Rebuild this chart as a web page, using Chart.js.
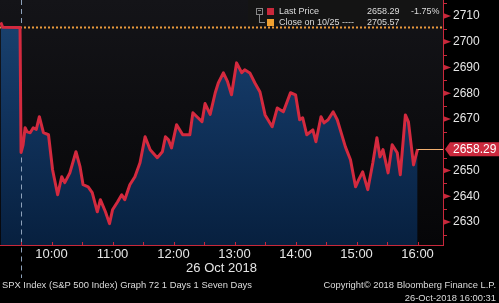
<!DOCTYPE html>
<html>
<head>
<meta charset="utf-8">
<script src="https://cdn.jsdelivr.net/npm/chart.js@4/dist/chart.umd.min.js"></script>
<style>
  html, body { margin: 0; padding: 0; background: #000; }
  #wrap { position: relative; width: 499px; height: 303px; overflow: hidden; background: #000; }
  canvas { position: absolute; left: 0; top: 0; }
  .t { position: absolute; white-space: nowrap; font-family: "Liberation Sans", Arial, sans-serif; color: #dcdcdc; }
  #legend { position: absolute; left: 248px; top: 0; width: 194px; height: 25px; background: #141414; }
  .sq { position: absolute; width: 7px; height: 7px; }
</style>
</head>
<body>
<div id="wrap">
  <canvas id="c" width="499" height="303"></canvas>
  <div id="legend">
    <div style="position:absolute;left:8px;top:8px;width:5px;height:5px;border:1px solid #888;"></div>
    <div style="position:absolute;left:10px;top:10px;width:3px;height:1px;background:#888;"></div>
    <div style="position:absolute;left:11px;top:15px;width:1px;height:8px;background:#888;"></div>
    <div style="position:absolute;left:11px;top:22px;width:6px;height:1px;background:#888;"></div>
    <div class="sq" style="left:19px;top:8px;background:#c9283b;"></div>
    <div class="sq" style="left:19px;top:19px;background:#f0a030;"></div>
    <div class="t" id="lg1" style="left:31px;top:6px;font-size:9px;"></div>
    <div class="t" id="lg1v" style="left:119px;top:6px;font-size:9px;"></div>
    <div class="t" id="lg1p" style="left:163px;top:6px;font-size:9px;"></div>
    <div class="t" id="lg2" style="left:31px;top:17px;font-size:9px;"></div>
    <div class="t" id="lg2v" style="left:119px;top:17px;font-size:9px;"></div>
  </div>
  <div class="t" id="foot1" style="left:2px;top:279px;font-size:9.4px;"></div>
  <div class="t" id="foot2" style="right:3px;top:279px;font-size:9.4px;text-align:right;"></div>
  <div class="t" id="foot3" style="right:3px;top:292px;font-size:9.4px;text-align:right;"></div>
</div>
<script>
// ---- data ----
const times = ["09:10","09:12","09:29","09:30","09:32","09:34","09:36","09:39","09:42","09:45","09:48","09:52","09:57",
  "10:01","10:06","10:10","10:13","10:18","10:24","10:28","10:31","10:36","10:40","10:45","10:48","10:53","10:57",
  "11:00","11:05","11:09","11:12","11:17","11:22","11:27","11:32","11:37","11:44","11:49","11:52","11:55","11:58",
  "12:03","12:09","12:16","12:19","12:24","12:28","12:31","12:36","12:41","12:44","12:49","12:53","12:57",
  "13:02","13:07","13:10","13:15","13:20","13:25","13:30","13:37","13:42","13:48","13:55",
  "14:00","14:04","14:07","14:11","14:17","14:20","14:25","14:28","14:32","14:37","14:41","14:44","14:49","14:54","14:59",
  "15:02","15:06","15:11","15:16","15:20","15:23","15:26","15:31","15:35","15:40","15:43","15:48","15:51","15:56","16:00"];
const prices = [2707.5,2705.6,2705.57,2657.0,2660.0,2666.6,2665.0,2664.7,2666.6,2666.0,2670.9,2664.7,2663.9,
  2650.3,2640.6,2647.6,2645.3,2649.1,2657.3,2651.5,2644.5,2643.7,2641.4,2634.0,2638.7,2634.0,2629.4,
  2634.8,2637.9,2640.6,2638.7,2644.5,2647.6,2653.0,2663.1,2658.1,2655.0,2657.3,2663.1,2661.9,2658.8,
  2667.8,2663.9,2663.9,2672.4,2670.5,2669.0,2676.0,2671.8,2680.2,2684.0,2687.9,2684.6,2679.4,
  2691.8,2688.0,2689.1,2687.9,2684.0,2680.5,2671.6,2667.0,2674.3,2672.8,2680.2,
  2679.4,2669.7,2670.5,2663.9,2665.8,2661.2,2670.9,2668.5,2669.7,2672.8,2669.7,2665.8,2659.2,2654.2,2643.7,
  2646.4,2649.5,2642.6,2653.0,2662.7,2655.3,2658.1,2649.1,2660.0,2656.9,2648.4,2671.6,2668.9,2652.2,2658.29];
const prevClose = 2705.57;
const lastPrice = 2658.29;
const pctChange = "-1.75%";
const sessionOpen = "09:30";
const xTickTimes = ["10:00","11:00","12:00","13:00","14:00","15:00","16:00"];
const xTickLabels = ["10:00","11:00","12:00","13:00","14:00","15:00","16:00"];
const yTickValues = [2630,2640,2650,2660,2670,2680,2690,2700,2710];
const yTickLabels = ["2630","2640","2650","","2670","2680","2690","2700","2710"];
const dateLabel = "26 Oct 2018";
const legendLabels = ["Last Price","Close on 10/25 ----"];
const footLeft = "SPX Index (S&P 500 Index) Graph 72 1 Days 1 Seven Days";
const footRight1 = "Copyright\u00A9 2018 Bloomberg Finance L.P.";
const footRight2 = "26-Oct-2018 16:00:31";

// ---- text ----
document.getElementById('lg1').textContent = legendLabels[0];
document.getElementById('lg1v').textContent = lastPrice.toFixed(2);
document.getElementById('lg1p').textContent = pctChange;
document.getElementById('lg2').textContent = legendLabels[1];
document.getElementById('lg2v').textContent = prevClose.toFixed(2);
document.getElementById('foot1').textContent = footLeft;
document.getElementById('foot2').textContent = footRight1;
document.getElementById('foot3').textContent = footRight2;

const toMin = s => { const [h,m] = s.split(':').map(Number); return h*60+m; };
const pts = times.map((t,i) => ({x: toMin(t), y: prices[i]}));
const RED = '#c8283b';
const zeroPad = s => { s.paddingTop = 0; s.paddingBottom = 0; s.paddingLeft = 0; s.paddingRight = 0; };

const deco = {
  id: 'deco',
  beforeDraw(chart) {
    const {ctx, chartArea: a} = chart;
    const g = ctx.createLinearGradient(0, a.top, 0, a.bottom);
    g.addColorStop(0, '#141418');
    g.addColorStop(1, '#060608');
    ctx.save(); ctx.fillStyle = g; ctx.fillRect(a.left, a.top, a.right-a.left, a.bottom-a.top); ctx.restore();
  },
  beforeDatasetsDraw(chart) {
    const {ctx, chartArea: a, scales: {y}} = chart;
    const py = Math.round(y.getPixelForValue(prevClose)) + 0.5;
    ctx.save();
    ctx.strokeStyle = '#e99a3c'; ctx.lineWidth = 2; ctx.setLineDash([2,2]);
    ctx.beginPath(); ctx.moveTo(a.left, py); ctx.lineTo(a.right, py); ctx.stroke();
    ctx.restore();
  },
  afterDatasetsDraw(chart) {
    const {ctx, chartArea: a, scales: {x, y}} = chart;
    ctx.save();
    const ox = Math.round(x.getPixelForValue(toMin(sessionOpen))) + 0.5;
    const oi = times.indexOf(sessionOpen);
    ctx.strokeStyle = '#8ea2bb'; ctx.lineWidth = 1; ctx.setLineDash([5,4]);
    ctx.beginPath();
    ctx.moveTo(ox, a.top); ctx.lineTo(ox, y.getPixelForValue(prices[oi-1]) - 3);
    ctx.moveTo(ox, y.getPixelForValue(prices[oi]) + 5); ctx.lineTo(ox, 278);
    ctx.stroke();
    ctx.setLineDash([]);
    const ly = Math.round(y.getPixelForValue(lastPrice)) + 0.5;
    const lx = x.getPixelForValue(toMin(times[times.length-1]));
    ctx.strokeStyle = '#f2b070'; ctx.lineWidth = 1;
    ctx.beginPath(); ctx.moveTo(lx, ly); ctx.lineTo(a.right, ly); ctx.stroke();
    ctx.restore();
  },
  afterDraw(chart) {
    const {ctx, chartArea: a, scales: {x, y}} = chart;
    ctx.save();
    ctx.fillStyle = RED; ctx.strokeStyle = RED; ctx.lineWidth = 1;
    yTickValues.forEach((v, i) => {
      const py = y.getPixelForValue(v);
      if (yTickLabels[i] !== "") {
        ctx.beginPath(); ctx.moveTo(a.right, py-3); ctx.lineTo(a.right+8, py); ctx.lineTo(a.right, py+3); ctx.closePath(); ctx.fill();
      }
      const pm = Math.round(y.getPixelForValue(v+5)) + 0.5;
      if (pm > a.top) { ctx.beginPath(); ctx.moveTo(a.right, pm); ctx.lineTo(a.right+4, pm); ctx.stroke(); }
    });
    const pm0 = Math.round(y.getPixelForValue(yTickValues[0]-5)) + 0.5;
    ctx.beginPath(); ctx.moveTo(a.right, pm0); ctx.lineTo(a.right+4, pm0); ctx.stroke();
    for (let m = toMin("09:30"); m <= toMin("16:00"); m += 30) {
      const px = Math.round(x.getPixelForValue(m)) + 0.5;
      ctx.beginPath(); ctx.moveTo(px, a.bottom); ctx.lineTo(px, a.bottom-3); ctx.stroke();
    }
    const ly = y.getPixelForValue(lastPrice);
    ctx.fillStyle = '#cc2a3e';
    ctx.beginPath();
    ctx.moveTo(a.right+2, ly); ctx.lineTo(a.right+7, ly-7); ctx.lineTo(499, ly-7); ctx.lineTo(499, ly+7); ctx.lineTo(a.right+7, ly+7); ctx.closePath(); ctx.fill();
    ctx.fillStyle = '#ffffff'; ctx.font = '12px "Liberation Sans", Arial, sans-serif';
    ctx.textBaseline = 'middle'; ctx.textAlign = 'left';
    ctx.fillText(lastPrice.toFixed(2), a.right+10, ly+0.5);
    ctx.restore();
  }
};

new Chart(document.getElementById('c'), {
  type: 'line',
  data: { datasets: [{
    data: pts,
    borderColor: '#d42a3f',
    borderWidth: 3,
    borderJoinStyle: 'round',
    pointRadius: 0,
    tension: 0,
    fill: 'start',
    backgroundColor: (c) => {
      const a = c.chart.chartArea; if (!a) return 'rgba(0,0,0,0)';
      const g = c.chart.ctx.createLinearGradient(0, a.top, 0, a.bottom);
      g.addColorStop(0, '#1b4471');
      g.addColorStop(0.4, '#123560');
      g.addColorStop(1, '#07203f');
      return g;
    }
  }]},
  options: {
    responsive: false, animation: false,
    layout: { padding: 0 },
    plugins: { legend: { display: false }, tooltip: { enabled: false } },
    scales: {
      x: {
        type: 'linear', min: 549.3, max: 985,
        afterBuildTicks: s => { s.ticks = xTickTimes.map(t => ({value: toMin(t)})); },
        ticks: { color: '#e6e6e6', font: { family: '"Liberation Sans", Arial, sans-serif', size: 13 }, padding: 2, maxRotation: 0, autoSkip: false,
          callback: (v, i) => xTickLabels[i] },
        grid: { display: false, drawTicks: false },
        border: { display: true, color: RED, width: 1 },
        title: { display: true, text: dateLabel, color: '#e6e6e6', font: { family: '"Liberation Sans", Arial, sans-serif', size: 13 }, padding: { top: 0, bottom: 27 } },
        afterFit: s => { s.height = 58; zeroPad(s); }
      },
      y: {
        position: 'right', min: 2621.1, max: 2716.2,
        afterBuildTicks: s => { s.ticks = yTickValues.map(v => ({value: v})); },
        ticks: { color: '#e6e6e6', font: { family: '"Liberation Sans", Arial, sans-serif', size: 12 }, padding: 10,
          callback: (v, i) => yTickLabels[i] },
        grid: { display: false, drawTicks: false },
        border: { display: true, color: RED, width: 1 },
        afterFit: s => { s.width = 56; zeroPad(s); }
      }
    }
  },
  plugins: [deco]
});
</script>
</body>
</html>
